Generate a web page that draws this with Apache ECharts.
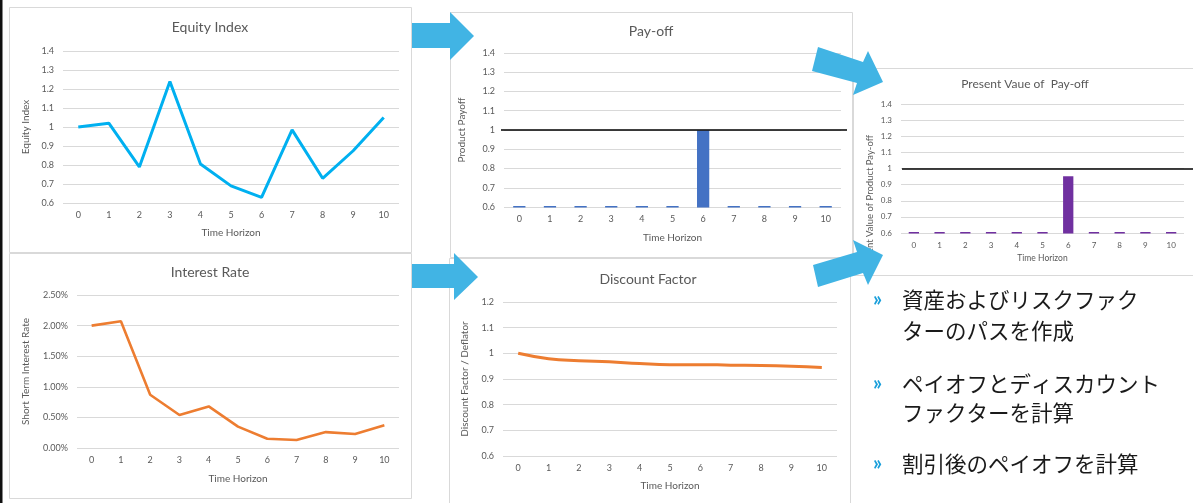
<!DOCTYPE html>
<html><head><meta charset="utf-8">
<script src="https://cdn.jsdelivr.net/npm/echarts@6/dist/echarts.min.js"></script>
<style>html,body{margin:0;padding:0;background:#fff}#c{width:1193px;height:503px}</style>
</head><body><div id="c"></div>
<script>
// ---- data ----
const timeSteps = ['0','1','2','3','4','5','6','7','8','9','10'];
const equityIndex = [1.00, 1.02, 0.79, 1.24, 0.805, 0.69, 0.63, 0.985, 0.73, 0.875, 1.05];
const interestRatePct = [2.00, 2.07, 0.87, 0.54, 0.68, 0.35, 0.15, 0.13, 0.26, 0.23, 0.37];
const productPayoff = [0, 0, 0, 0, 0, 0, 1, 0, 0, 0, 0];
const discountFactor = [1.000, 0.979, 0.971, 0.967, 0.960, 0.956, 0.956, 0.954, 0.953, 0.950, 0.945];
const presentValuePayoff = [0, 0, 0, 0, 0, 0, 0.955, 0, 0, 0, 0];
const payoffLevel = 1;
const equityAxis = {min: 0.6, max: 1.4, interval: 0.1};
const rateAxis = {min: 0, max: 2.5, interval: 0.5};
const payoffAxis = {min: 0.6, max: 1.4, interval: 0.1};
const dfAxis = {min: 0.6, max: 1.2, interval: 0.1};
const bulletLines = [
  ['資産およびリスクファク', 'ターのパスを作成'],
  ['ペイオフとディスカウント', 'ファクターを計算'],
  ['割引後のペイオフを計算']
];

// ---- styling ----
const FONT = 'Lato, "Noto Sans", sans-serif';
const TXT = '#595959';
const GRIDC = '#D9D9D9';
const ARROW = '#41B4E4';

const grids = [
  {left: 63, top: 51, width: 336, height: 152},
  {left: 77, top: 295, width: 322, height: 153},
  {left: 504, top: 53, width: 337, height: 154},
  {left: 503, top: 302, width: 334, height: 154},
  {left: 901, top: 104, width: 283, height: 129}
];

function fmt1(v){ return String(+v.toFixed(1)); }
function xAx(i, gap, fs, nfs){
  return {type:'category', gridIndex:i, data: timeSteps, boundaryGap:true,
    axisLine:{show:false}, axisTick:{show:false},
    axisLabel:{color:TXT, fontSize: fs, fontFamily:FONT, margin:8},
    name:'Time Horizon', nameLocation:'middle', nameGap:gap,
    nameTextStyle:{color:TXT, fontSize: nfs, fontFamily:FONT}};
}
function yAx(i, rng, name, gap, fs, formatter){
  return {type:'value', gridIndex:i, min:rng.min, max:rng.max, interval:rng.interval,
    axisLine:{show:false}, axisTick:{show:false},
    splitLine:{lineStyle:{color:GRIDC, width:1}},
    axisLabel:{color:TXT, fontSize: fs, fontFamily:FONT, margin:9, formatter: formatter},
    name: name, nameLocation:'middle', nameGap: gap, nameRotate: 90,
    nameTextStyle:{color:TXT, fontSize: 10, fontFamily:FONT}};
}
function barRenderer(color, yMin, ratio){
  return function(params, api){
    const i = api.value(0), v = api.value(1);
    const top = api.coord([i, Math.max(v, yMin)]);
    const base = api.coord([i, yMin]);
    const w = api.size([1, 0])[0] * ratio;
    const h = Math.max(base[1] - top[1], 1.5);
    return {type:'rect', shape:{x: top[0] - w/2, y: base[1] - h + 0.5, width: w, height: h},
      style:{fill: color}};
  };
}
function levelLine(x1, x2){
  return {silent:true, symbol:'none', label:{show:false},
    lineStyle:{color:'#000', width:1.6, type:'solid'},
    emphasis:{disabled:true},
    data:[[{x:x1, yAxis:payoffLevel},{x:x2, yAxis:payoffLevel}]]};
}

// ---- decorations ----
const graphics = [];
function panel(x, y, w, h){
  graphics.push({type:'rect', z:-5, shape:{x:x, y:y, width:w, height:h},
    style:{fill:'#fff', stroke:GRIDC, lineWidth:1}});
}
panel(9.5, 7.5, 402, 245);
panel(9.5, 253.5, 402, 245);
panel(450.5, 12.5, 402, 245);
panel(449.5, 258.5, 401, 250);
panel(853.5, 68.5, 345, 207);
graphics.push({type:'rect', z:10, shape:{x:0, y:0, width:2.5, height:503}, style:{fill:'#111'}});

function title(text, x, y, fs){
  graphics.push({type:'text', z:10, x:x, y:y,
    style:{text:text, fill:TXT, font: fs + 'px ' + FONT, align:'center', verticalAlign:'middle',
      textAlign:'center', textVerticalAlign:'middle'}});
}
title('Equity Index', 210, 27, 14);
title('Interest Rate', 210, 272, 14);
title('Pay-off', 651, 31, 14);
title('Discount Factor', 648, 279, 14);
title('Present Vaue of  Pay-off', 1025, 84, 12);

// PV axis name (partly hidden behind arrow)
graphics.push({type:'text', z:10, x:870, y:135, rotation: Math.PI/2,
  style:{text:'Present Value of Product Pay-off', fill:TXT, font:'9.5px ' + FONT,
    align:'right', verticalAlign:'middle', textAlign:'right', textVerticalAlign:'middle'}});
graphics.push({type:'rect', z:11, shape:{x:858, y:276, width:24, height:14}, style:{fill:'#fff'}});

function arrow(pts){
  graphics.push({type:'polygon', z:20, shape:{points:pts}, style:{fill:ARROW}});
}
arrow([[412,23],[450,23],[450,12],[474,36],[450,60],[450,48],[412,48]]);
arrow([[412,264],[454,264],[454,253],[478,277],[454,300],[454,288],[412,288]]);
arrow([[818,47],[863,62],[868,51],[883,82],[853,95],[857,83],[812,71]]);
arrow([[813,265],[857,252],[853,240],[883,255],[868,285],[863,273],[818,287]]);

// bullets
const lineY = [[300, 331], [384, 413], [464]];
bulletLines.forEach(function(group, gi){
  graphics.push({type:'text', z:10, x:873, y:lineY[gi][0],
    style:{text:'»', fill:'#1A9FDB', font:'bold 20px ' + FONT, verticalAlign:'middle', textVerticalAlign:'middle'}});
  group.forEach(function(t, li){
    graphics.push({type:'text', z:10, x:902, y:lineY[gi][li],
      style:{text:t, fill:'#1a1a1a', font:'21.5px "Noto Sans CJK JP", sans-serif',
        verticalAlign:'middle', textVerticalAlign:'middle'}});
  });
});

const option = {
  backgroundColor:'#fff',
  animation:false,
  grid: grids,
  xAxis: [xAx(0, 25, 9, 10), xAx(1, 26, 9, 10), xAx(2, 26, 9, 10), xAx(3, 25, 9, 10), xAx(4, 21, 8, 8.5)],
  yAxis: [
    yAx(0, equityAxis, 'Equity Index', 32, 9, fmt1),
    yAx(1, rateAxis, 'Short Term Interest Rate', 46, 9, function(v){return v.toFixed(2) + '%';}),
    yAx(2, payoffAxis, 'Product Payoff', 37, 9, fmt1),
    yAx(3, dfAxis, 'Discount Factor / Deflator', 33, 9, fmt1),
    Object.assign(yAx(4, payoffAxis, '', 30, 8, fmt1), {name:''})
  ],
  series: [
    {type:'line', xAxisIndex:0, yAxisIndex:0, data:equityIndex, symbol:'none',
      lineStyle:{color:'#00B0F0', width:3}, itemStyle:{color:'#00B0F0'}},
    {type:'line', xAxisIndex:1, yAxisIndex:1, data:interestRatePct, symbol:'none',
      lineStyle:{color:'#ED7D31', width:2.6}, itemStyle:{color:'#ED7D31'}},
    {type:'custom', xAxisIndex:2, yAxisIndex:2, encode:{x:0, y:1},
      data: productPayoff.map(function(v, i){ return [i, v]; }),
      renderItem: barRenderer('#4472C4', payoffAxis.min, 0.4),
      markLine: levelLine(501, 847)},
    {type:'line', xAxisIndex:3, yAxisIndex:3, data:discountFactor, symbol:'none', smooth:true,
      lineStyle:{color:'#ED7D31', width:3}, itemStyle:{color:'#ED7D31'}},
    {type:'custom', xAxisIndex:4, yAxisIndex:4, encode:{x:0, y:1},
      data: presentValuePayoff.map(function(v, i){ return [i, v]; }),
      renderItem: barRenderer('#7030A0', payoffAxis.min, 0.4),
      markLine: levelLine(902, 1193)}
  ],
  graphic: {elements: graphics}
};
const chart = echarts.init(document.getElementById('c'), null, {renderer:'canvas'});
chart.setOption(option);
</script>
</body></html>
